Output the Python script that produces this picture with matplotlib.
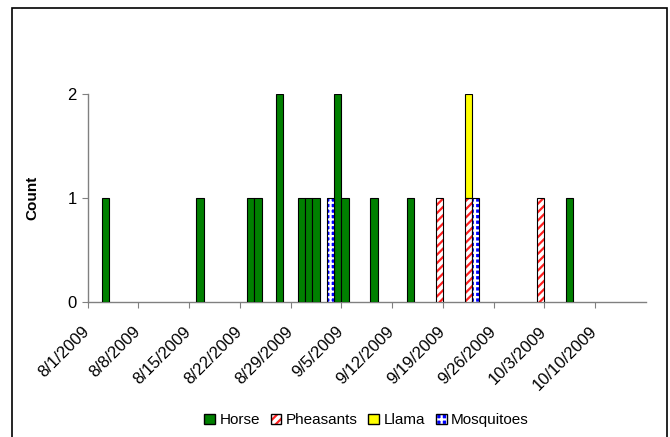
import datetime as dt
import matplotlib
matplotlib.use("Agg")
import matplotlib.pyplot as plt
import matplotlib.dates as mdates
from matplotlib.patches import Rectangle, Patch

plt.rcParams["font.family"] = ["Liberation Sans", "DejaVu Sans"]
plt.rcParams["hatch.linewidth"] = 1.6

# Data: one stacked column per date (counts)
horse_dates = ["2009-08-03", "2009-08-16", "2009-08-23", "2009-08-24", "2009-08-27",
               "2009-08-30", "2009-08-31", "2009-09-01", "2009-09-04", "2009-09-05",
               "2009-09-09", "2009-09-14", "2009-10-06"]
horse_counts = [1, 1, 1, 1, 2, 1, 1, 1, 2, 1, 1, 1, 1]
pheasant_dates = ["2009-09-18", "2009-09-22", "2009-10-02"]
pheasant_counts = [1, 1, 1]
llama_dates = ["2009-09-22"]
llama_counts = [1]
mosquito_dates = ["2009-09-03", "2009-09-23"]
mosquito_counts = [1, 1]

tick_dates = ["2009-08-01", "2009-08-08", "2009-08-15", "2009-08-22", "2009-08-29",
              "2009-09-05", "2009-09-12", "2009-09-19", "2009-09-26", "2009-10-03",
              "2009-10-10"]

GREEN = "#008000"
RED = "#ff2020"
YELLOW = "#ffff00"
BLUE = "#0000ff"


def to_num(dates):
    return [mdates.date2num(dt.date.fromisoformat(d)) for d in dates]


fig = plt.figure(figsize=(6.7, 4.37), dpi=100)
ax = fig.add_axes([0.1309, 0.3096, 0.964 - 0.1309, 0.7849 - 0.3096])

# running totals so series stack on each date
base = {}


def stack(dates, counts):
    xs = to_num(dates)
    bottoms = [base.get(x, 0) for x in xs]
    for x, c in zip(xs, counts):
        base[x] = base.get(x, 0) + c
    return xs, bottoms


xs, b = stack(horse_dates, horse_counts)
ax.bar(xs, horse_counts, bottom=b, width=1, align="edge", color=GREEN,
       edgecolor="black", linewidth=0.8, zorder=3)

xs, b = stack(pheasant_dates, pheasant_counts)
ax.bar(xs, pheasant_counts, bottom=b, width=1, align="edge", facecolor="white",
       edgecolor=RED, hatch="////", linewidth=0, zorder=3)
ax.bar(xs, pheasant_counts, bottom=b, width=1, align="edge", facecolor="none",
       edgecolor="black", linewidth=0.8, zorder=4)

xs, b = stack(llama_dates, llama_counts)
ax.bar(xs, llama_counts, bottom=b, width=1, align="edge", color=YELLOW,
       edgecolor="black", linewidth=0.8, zorder=3)

xs, b = stack(mosquito_dates, mosquito_counts)
ax.bar(xs, mosquito_counts, bottom=b, width=1, align="edge", facecolor=BLUE,
       edgecolor="white", hatch="+++", linewidth=0, zorder=3)
ax.bar(xs, mosquito_counts, bottom=b, width=1, align="edge", facecolor="none",
       edgecolor="black", linewidth=0.8, zorder=4)

ax.set_xlim(mdates.date2num(dt.date(2009, 8, 1)), mdates.date2num(dt.date(2009, 10, 17)))
ax.set_ylim(0, 2)
ax.set_yticks([0, 1, 2])
ticks = to_num(tick_dates)
ax.set_xticks(ticks)
ax.set_xticklabels([])
# date labels, slanted, ending a little left of and below each tick
for t, d in zip(ticks, tick_dates):
    d = dt.date.fromisoformat(d)
    ax.annotate(f"{d.month}/{d.day}/{d.year}", xy=(t, 0),
                xycoords=("data", "axes fraction"), xytext=(-4, -16),
                textcoords="offset points", rotation=45, ha="right", va="top",
                rotation_mode="anchor", fontsize=12)
ax.tick_params(axis="y", labelsize=12, length=4, color="#808080", pad=4)
ax.tick_params(axis="x", length=4, color="#808080")

for s in ("top", "right"):
    ax.spines[s].set_visible(False)
for s in ("left", "bottom"):
    ax.spines[s].set_color("#808080")
    ax.spines[s].set_linewidth(1)

ax.set_ylabel("Count", fontsize=11, fontweight="bold", labelpad=20)

handles = [
    Patch(facecolor=GREEN, edgecolor="black"),
    (Patch(facecolor="white", edgecolor=RED, hatch="////", linewidth=0),
     Patch(facecolor="none", edgecolor="black")),
    Patch(facecolor=YELLOW, edgecolor="black"),
    (Patch(facecolor=BLUE, edgecolor="white", hatch="+++", linewidth=0),
     Patch(facecolor="none", edgecolor="black")),
]
labels = ["Horse", "Pheasants", "Llama", "Mosquitoes"]
fig.legend(handles, labels, loc="center", bbox_to_anchor=(0.547, 0.038), ncol=4,
           frameon=False, fontsize=11, handlelength=0.7, handleheight=0.7,
           handletextpad=0.3, columnspacing=0.7)

# chart area border
fig.patches.append(Rectangle((12 / 670, -0.05), (667 - 12) / 670, 1.05 - 8 / 437,
                             transform=fig.transFigure, fill=False,
                             edgecolor="black", linewidth=1.2))

fig.savefig("out.png", dpi=100, facecolor="white")
